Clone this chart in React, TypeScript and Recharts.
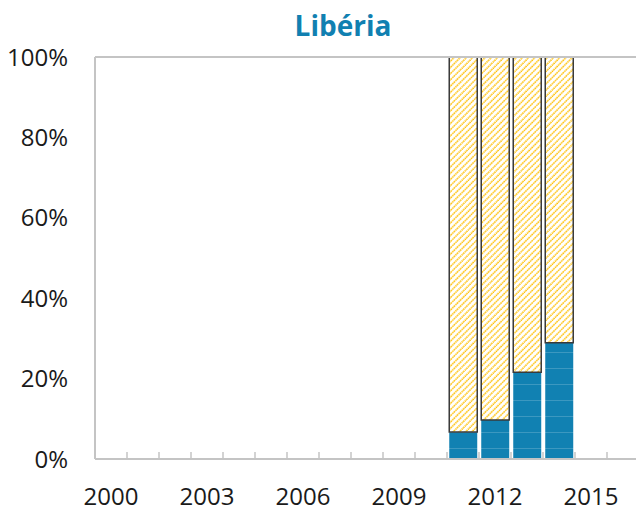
import React from 'react';
import { BarChart, Bar, XAxis, YAxis, ReferenceLine } from 'recharts';

const years = ['2000', '2001', '2002', '2003', '2004', '2005', '2006', '2007', '2008', '2009', '2010', '2011', '2012', '2013', '2014', '2015', '2016'];
// share of the bottom (blue) segment, %
const blueShare = [null, null, null, null, null, null, null, null, null, null, null, 6.7, 9.7, 21.6, 28.9, null, null];
// share of the hatched (yellow) segment, %
const yellowShare = [null, null, null, null, null, null, null, null, null, null, null, 93.3, 90.3, 78.4, 71.1, null, null];
const percentTicks = [0, 20, 40, 60, 80, 100];

const data = years.map((year, i) => ({ year, blue: blueShare[i], yellow: yellowShare[i] }));

const FONT = '"Open Sans", "DejaVu Sans", sans-serif';
const AXIS_GREY = '#C4C4C4';

const YearTick = (props: any) => {
  const { x, y, payload, index } = props;
  const half = payload?.offset ?? 16;
  return (
    <g>
      <line x1={x - half} x2={x - half} y1={y} y2={y - 7} stroke={AXIS_GREY} strokeWidth={1.5} />
      {index % 3 === 0 && (
        <text x={x} y={y + 46} textAnchor="middle" fontSize={24} fill="#1a1a1a" fontFamily={FONT}>
          {payload.value}
        </text>
      )}
    </g>
  );
};

export default function App() {
  return (
    <div style={{ position: 'absolute', left: 0, top: 0, width: 636, height: 512, background: '#fff', fontFamily: FONT, overflow: 'hidden' }}>
      <div
        style={{
          position: 'absolute',
          top: 6,
          left: 243,
          width: 200,
          textAlign: 'center',
          fontSize: 28,
          fontWeight: 700,
          color: '#1180B1',
          lineHeight: '38px',
        }}
      >
        Libéria
      </div>
      <BarChart
        width={639}
        height={512}
        data={data}
        margin={{ top: 57, right: 0, bottom: 0, left: 0 }}
        barCategoryGap="7%"
      >
        <defs>
          <pattern id="hatch" width="4.4" height="4.4" patternUnits="userSpaceOnUse" patternTransform="rotate(45)">
            <rect width="4.4" height="4.4" fill="#ffffff" />
            <line x1="1" y1="0" x2="1" y2="4.4" stroke="#FFBF00" strokeWidth="1.5" strokeDasharray="1.6 0.6" />
          </pattern>
          <pattern id="bluegrid" width="16" height="16" patternUnits="userSpaceOnUse">
            <rect width="16" height="16" fill="#1181B2" />
            <line x1="0" y1="0.5" x2="16" y2="0.5" stroke="rgba(255,255,255,0.18)" strokeWidth="1" />
          </pattern>
        </defs>
        <XAxis
          dataKey="year"
          interval={0}
          height={53}
          tickSize={0}
          tickMargin={0}
          tickLine={false}
          axisLine={{ stroke: AXIS_GREY, strokeWidth: 2 }}
          tick={<YearTick />}
        />
        <YAxis
          type="number"
          domain={[0, 100]}
          ticks={percentTicks}
          width={95}
          tickLine={false}
          tickSize={0}
          tickMargin={27}
          axisLine={{ stroke: AXIS_GREY, strokeWidth: 2 }}
          tickFormatter={(v) => `${v}%`}
          tick={{ fontSize: 24, fill: '#1a1a1a', fontFamily: FONT }}
        />
        <ReferenceLine y={100} stroke={AXIS_GREY} strokeWidth={2} ifOverflow="visible" />
        <Bar dataKey="blue" stackId="s" fill="url(#bluegrid)" isAnimationActive={false} />
        <Bar dataKey="yellow" stackId="s" fill="url(#hatch)" stroke="#3a3a3a" strokeWidth={1.5} isAnimationActive={false} />
      </BarChart>
    </div>
  );
}
